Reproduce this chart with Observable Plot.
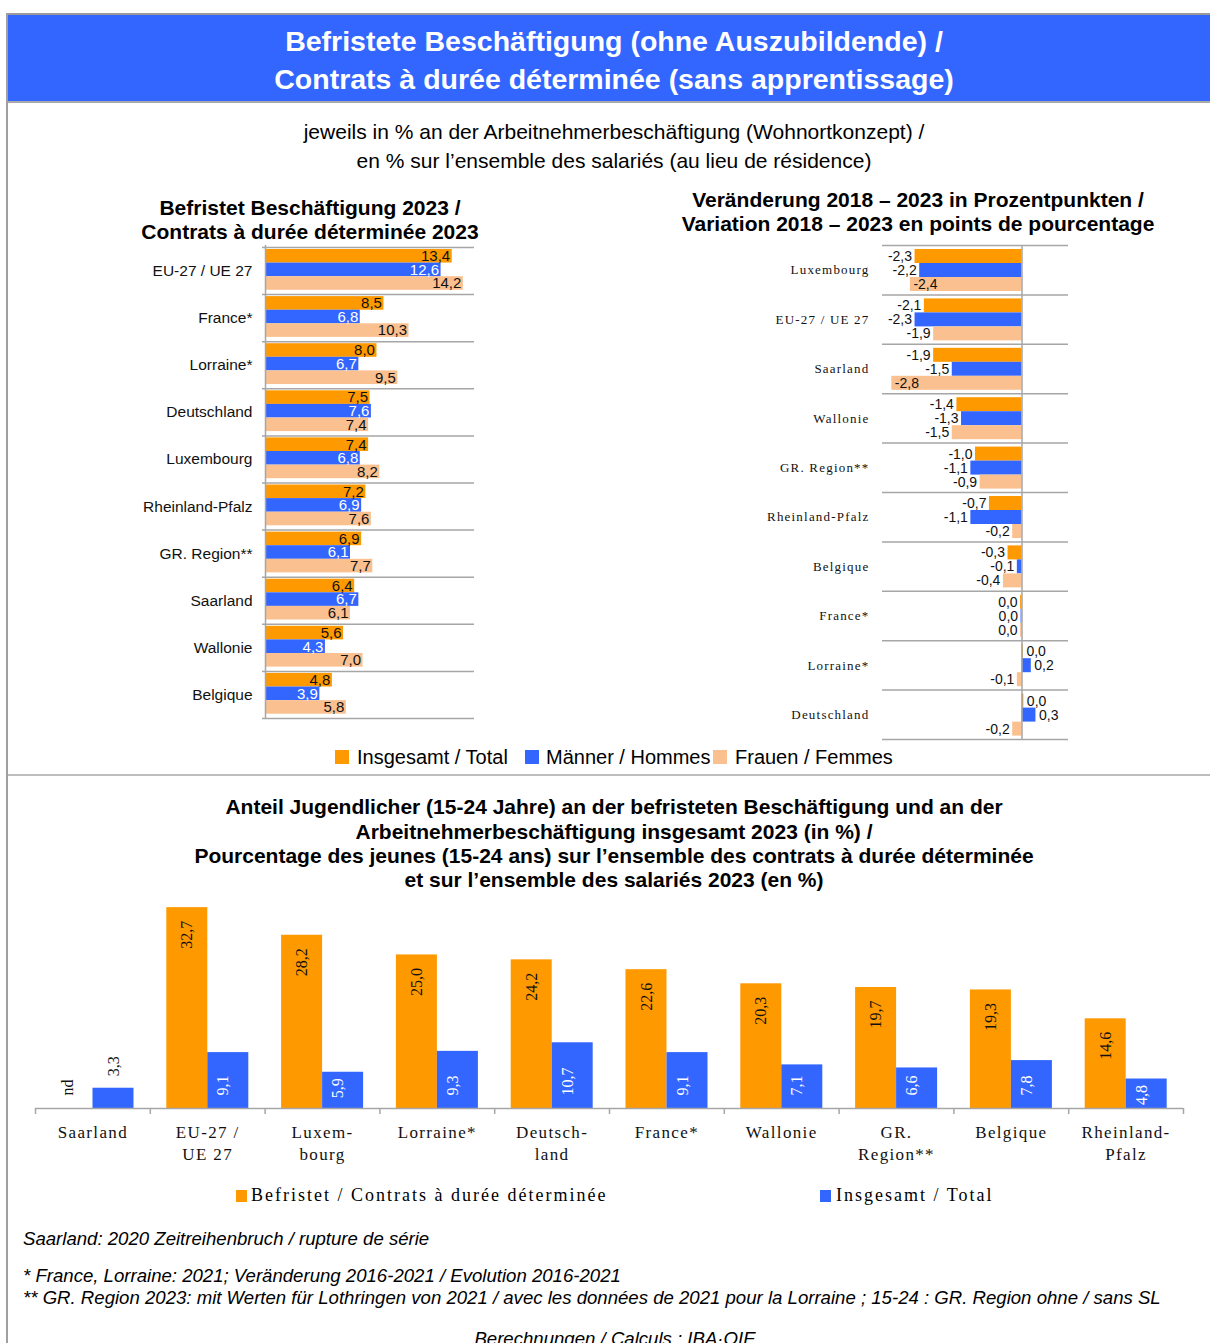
<!DOCTYPE html>
<html><head><meta charset="utf-8">
<script src="https://cdn.jsdelivr.net/npm/d3@7"></script>
<script src="https://cdn.jsdelivr.net/npm/@observablehq/plot@0.6"></script>
<style>
html,body{margin:0;padding:0;background:#fff;}
body{width:1210px;height:1343px;overflow:hidden;position:relative;font-family:"Liberation Sans",Arial,sans-serif;color:#000;}
.abs{position:absolute;white-space:nowrap;}
</style></head><body>
<script>
// ---------- DATA ----------
const seriesNames = ["Insgesamt / Total", "Männer / Hommes", "Frauen / Femmes"];

const levelCats = ["EU-27 / UE 27","France*","Lorraine*","Deutschland","Luxembourg","Rheinland-Pfalz","GR. Region**","Saarland","Wallonie","Belgique"];
const levelTotal = [13.4, 8.5, 8.0, 7.5, 7.4, 7.2, 6.9, 6.4, 5.6, 4.8];
const levelMen   = [12.6, 6.8, 6.7, 7.6, 6.8, 6.9, 6.1, 6.7, 4.3, 3.9];
const levelWomen = [14.2, 10.3, 9.5, 7.4, 8.2, 7.6, 7.7, 6.1, 7.0, 5.8];

const changeCats  = ["Luxembourg","EU-27 / UE 27","Saarland","Wallonie","GR. Region**","Rheinland-Pfalz","Belgique","France*","Lorraine*","Deutschland"];
const changeTotal = [-2.3, -2.1, -1.9, -1.4, -1.0, -0.7, -0.3, -0.03, 0.03, 0.04];
const changeMen   = [-2.2, -2.3, -1.5, -1.3, -1.1, -1.1, -0.1, -0.02, 0.2, 0.3];
const changeWomen = [-2.4, -1.9, -2.8, -1.5, -0.9, -0.2, -0.4, -0.03, -0.1, -0.2];

const youthCats  = ["Saarland","EU-27 /\nUE 27","Luxem-\nbourg","Lorraine*","Deutsch-\nland","France*","Wallonie","GR.\nRegion**","Belgique","Rheinland-\nPfalz"];
const youthFixed = [null, 32.7, 28.2, 25.0, 24.2, 22.6, 20.3, 19.7, 19.3, 14.6];
const youthAll   = [3.3, 9.1, 5.9, 9.3, 10.7, 9.1, 7.1, 6.6, 7.8, 4.8];
const youthSeries = ["Befristet / Contrats à durée déterminée", "Insgesamt / Total"];

// ---------- STYLE ----------
const colors = ["#FF9900", "#3366FF", "#FAC090"];
const SANS = "Liberation Sans, Arial, sans-serif";
const SERIF = "Liberation Serif, Times New Roman, serif";
const GRID = "#a6a6a6";

function fmt(v){ if (v == null) return "nd"; const r = Math.abs(v) < 0.05 ? 0 : v; return r.toFixed(1).replace(".", ","); }

function box(x, y, w, h, bg){ const d = document.createElement("div"); d.className="abs"; Object.assign(d.style,{left:x+"px",top:y+"px",width:w+"px",height:h+"px",background:bg}); document.body.appendChild(d); return d; }
function txt(s, o){
  const d = document.createElement("div"); d.className = "abs"; d.textContent = s;
  const lh = o.lh || Math.round(o.size*1.3);
  Object.assign(d.style, {top:(o.y - lh/2)+"px", lineHeight: lh+"px", fontSize:o.size+"px", fontWeight:o.bold?"bold":"normal",
    fontStyle:o.italic?"italic":"normal", fontFamily:o.family||SANS, color:o.color||"#000", letterSpacing:(o.ls||0)+"px"});
  if (o.center != null){ d.style.left = (o.center-700)+"px"; d.style.width="1400px"; d.style.textAlign="center"; }
  else d.style.left = o.x+"px";
  document.body.appendChild(d); return d;
}
function place(svg, x, y){ svg.style.position="absolute"; svg.style.left=x+"px"; svg.style.top=y+"px"; document.body.appendChild(svg); }

// ---------- FRAME / HEADER ----------
box(6, 13, 1204, 2, "#999");
box(6, 13, 2, 1330, "#a0a0a0");
box(8, 15, 1202, 86, "#3366FF");
box(8, 101, 1202, 2, "#aaa");
box(8, 774, 1202, 2, "#bdbdbd");
txt("Befristete Beschäftigung (ohne Auszubildende) /", {center:614, y:41, size:28.5, bold:true, color:"#fff"});
txt("Contrats à durée déterminée (sans apprentissage)", {center:614, y:79, size:28.5, bold:true, color:"#fff"});
txt("jeweils in % an der Arbeitnehmerbeschäftigung (Wohnortkonzept) /", {center:614, y:131, size:21});
txt("en % sur l’ensemble des salariés (au lieu de résidence)", {center:614, y:160, size:21});
txt("Befristet Beschäftigung 2023 /", {center:310, y:207, size:21, bold:true});
txt("Contrats à durée déterminée 2023", {center:310, y:231, size:21, bold:true});
txt("Veränderung 2018 – 2023 in Prozentpunkten /", {center:918, y:199, size:21, bold:true});
txt("Variation 2018 – 2023 en points de pourcentage", {center:918, y:223, size:21, bold:true});

const baseStyle = {fontFamily: SANS, fontSize: "15px", color: "#111", background: "transparent", overflow: "visible"};

// ---------- LEFT CHART ----------
const L = {w:600, h:480, mt:7, mb:2, ml:265, mr:126};
const bwL = (L.h - L.mt - L.mb) / levelCats.length;
const hL = 13.6, topL = 2;
const leftRows = [levelTotal, levelMen, levelWomen].map(arr => arr.map((v, i) => ({cat: levelCats[i], v})));
const leftPlot = Plot.plot({
  width: L.w, height: L.h, marginTop: L.mt, marginBottom: L.mb, marginLeft: L.ml, marginRight: L.mr,
  x: {domain: [0, 15], axis: null},
  y: {domain: levelCats, padding: 0, round: false},
  style: baseStyle,
  marks: [
    Plot.ruleY(levelCats, {y: d => d, dy: -bwL/2, stroke: GRID, strokeWidth: 1.5, insetLeft: -3}),
    Plot.ruleY(levelCats.slice(-1), {y: d => d, dy: bwL/2, stroke: GRID, strokeWidth: 1.5, insetLeft: -3}),
    ...leftRows.map((rows, j) => Plot.barX(rows, {y: "cat", x: "v", fill: colors[j],
      insetTop: topL + hL*j, insetBottom: bwL - topL - hL*(j+1)})),
    ...leftRows.map((rows, j) => Plot.text(rows, {y: "cat", x: "v", text: d => fmt(d.v), textAnchor: "end",
      dx: -2, dy: topL + hL*(j+0.5) - bwL/2, fill: j === 1 ? "#fff" : "#111", fontSize: 15})),
    Plot.ruleX([0], {stroke: GRID, strokeWidth: 1.5, insetTop: -2}),
    Plot.axisY({tickSize: 0, tickPadding: 13, fontSize: 15.5, label: null})
  ]
});
place(leftPlot, 0, 240);

// ---------- RIGHT CHART ----------
const R = {w:610, h:503, mt:7, mb:2, ml:282, mr:142};
const xDomR = [-3, 1];
const bwR = (R.h - R.mt - R.mb) / changeCats.length;
const pxR = (R.w - R.ml - R.mr) / (xDomR[1] - xDomR[0]);
const hR = 14, topR = 4;
const rightRows = [changeTotal, changeMen, changeWomen].map(arr => arr.map((v, i) => ({cat: changeCats[i], v})));
const insideLim = xDomR[0] + 29 / pxR;
const startSide = d => d.v >= 0 || d.v < insideLim;
const rightPlot = Plot.plot({
  width: R.w, height: R.h, marginTop: R.mt, marginBottom: R.mb, marginLeft: R.ml, marginRight: R.mr,
  x: {domain: xDomR, axis: null},
  y: {domain: changeCats, padding: 0, round: false},
  style: baseStyle,
  marks: [
    Plot.ruleY(changeCats, {y: d => d, dy: -bwR/2, stroke: GRID, strokeWidth: 1.5}),
    Plot.ruleY(changeCats.slice(-1), {y: d => d, dy: bwR/2, stroke: GRID, strokeWidth: 1.5}),
    ...rightRows.map((rows, j) => Plot.barX(rows, {y: "cat", x: "v", fill: colors[j],
      insetTop: topR + hR*j, insetBottom: bwR - topR - hR*(j+1)})),
    ...rightRows.map((rows, j) => Plot.text(rows.filter(startSide), {y: "cat", x: "v", text: d => fmt(d.v), textAnchor: "start",
      dx: 3, dy: topR + hR*(j+0.5) - bwR/2, fill: "#111", fontSize: 14})),
    ...rightRows.map((rows, j) => Plot.text(rows.filter(d => !startSide(d)), {y: "cat", x: "v", text: d => fmt(d.v), textAnchor: "end",
      dx: -3, dy: topR + hR*(j+0.5) - bwR/2, fill: "#111", fontSize: 14})),
    Plot.ruleX([0], {stroke: GRID, strokeWidth: 1.5}),
    Plot.axisY({tickSize: 0, tickPadding: 13, fontSize: 13, fontFamily: SERIF, label: null})
  ]
});
rightPlot.querySelectorAll('g[aria-label="y-axis tick label"] text').forEach(t => t.setAttribute("letter-spacing", "1.2"));
place(rightPlot, 600, 238);

// ---------- MIDDLE LEGEND ----------
const legX = [[335, 357], [525, 546], [713, 735]];
seriesNames.forEach((s, j) => { box(legX[j][0], 750, 14, 14, colors[j]); txt(s, {x: legX[j][1], y: 757, size: 20}); });

// ---------- BOTTOM TITLE ----------
txt("Anteil Jugendlicher (15-24 Jahre) an der befristeten Beschäftigung und an der", {center:614, y:806, size:21, bold:true});
txt("Arbeitnehmerbeschäftigung insgesamt 2023 (in %) /", {center:614, y:831, size:21, bold:true});
txt("Pourcentage des jeunes (15-24 ans) sur l’ensemble des contrats à durée déterminée", {center:614, y:855, size:21, bold:true});
txt("et sur l’ensemble des salariés 2023 (en %)", {center:614, y:879, size:21, bold:true});

// ---------- BOTTOM CHART ----------
const B = {w:1210, h:283, mt:8, mb:60, ml:35, mr:27};
const yMaxB = 35;
const bwB = (B.w - B.ml - B.mr) / youthCats.length;
const pxB = (B.h - B.mt - B.mb) / yMaxB;
const barW = 41, padL = 16.5;
const fixedRows = youthCats.map((c, i) => ({cat: c, v: youthFixed[i]}));
const allRows = youthCats.map((c, i) => ({cat: c, v: youthAll[i]}));
const oDx = padL + barW/2 - bwB/2, bDx = padL + barW*1.5 - bwB/2;
const labelOpts = {rotate: -90, fontFamily: SERIF, fontSize: 16, ariaLabel: "bar label"};
const bottomPlot = Plot.plot({
  width: B.w, height: B.h, marginTop: B.mt, marginBottom: B.mb, marginLeft: B.ml, marginRight: B.mr,
  x: {domain: youthCats, padding: 0, round: false},
  y: {domain: [0, yMaxB], axis: null},
  style: baseStyle,
  marks: [
    Plot.barY(fixedRows.filter(d => d.v != null), {x: "cat", y: "v", fill: colors[0], insetLeft: padL, insetRight: bwB - padL - barW}),
    Plot.barY(allRows, {x: "cat", y: "v", fill: colors[1], insetLeft: padL + barW, insetRight: bwB - padL - 2*barW}),
    Plot.ruleY([0], {stroke: GRID, strokeWidth: 1.5}),
    Plot.ruleX(youthCats, {x: d => d, y1: 0, y2: 0, insetBottom: -6, dx: -bwB/2, stroke: GRID, strokeWidth: 1.5}),
    Plot.ruleX(youthCats.slice(-1), {x: d => d, y1: 0, y2: 0, insetBottom: -6, dx: bwB/2, stroke: GRID, strokeWidth: 1.5}),
    Plot.text(fixedRows.filter(d => d.v != null), {x: "cat", y: "v", text: d => fmt(d.v), textAnchor: "end", dx: oDx, dy: 13, fill: "#111", ...labelOpts}),
    Plot.text(fixedRows.filter(d => d.v == null), {x: "cat", frameAnchor: "bottom", text: d => fmt(d.v), textAnchor: "start", dx: oDx, dy: -13, fill: "#111", ...labelOpts}),
    ...allRows.map(d => {
      const bp = d.v * pxB;
      if (bp < 28) return Plot.text([d], {x: "cat", y: "v", text: e => fmt(e.v), textAnchor: "start", dx: bDx, dy: -12, fill: "#111", ...labelOpts});
      return Plot.text([d], {x: "cat", frameAnchor: "bottom", text: e => fmt(e.v), textAnchor: "start", dx: bDx, dy: -Math.min(13, bp - 26), fill: "#fff", ...labelOpts});
    }),
    Plot.axisX({tickSize: 0, tickPadding: 14, fontSize: 17, fontFamily: SERIF, lineHeight: 1.3, label: null})
  ]
});
bottomPlot.querySelectorAll('g[aria-label="x-axis tick label"] text').forEach(t => t.setAttribute("letter-spacing", "1.35"));
bottomPlot.querySelectorAll('g[aria-label="bar label"] text').forEach(t => t.setAttribute("letter-spacing", "1.3"));
place(bottomPlot, 0, 885);

// ---------- BOTTOM LEGEND ----------
const legBX = [[236, 251], [820, 836]];
youthSeries.forEach((s, j) => { box(legBX[j][0], 1190, 11, 12, colors[j]); txt(s, {x: legBX[j][1], y: 1195, size: 18, family: SERIF, ls: 2.0}); });

// ---------- FOOTNOTES ----------
txt("Saarland: 2020 Zeitreihenbruch / rupture de série", {x: 23, y: 1239, size: 18.6, italic: true});
txt("* France, Lorraine: 2021; Veränderung 2016-2021 / Evolution 2016-2021", {x: 23, y: 1276, size: 18.6, italic: true});
txt("** GR. Region 2023: mit Werten für Lothringen von 2021 / avec les données de 2021 pour la Lorraine ; 15-24 : GR. Region ohne / sans SL", {x: 23, y: 1298, size: 18.6, italic: true});
txt("Berechnungen / Calculs : IBA·OIE", {center: 615, y: 1339, size: 18.6, italic: true});
</script>
</body></html>
